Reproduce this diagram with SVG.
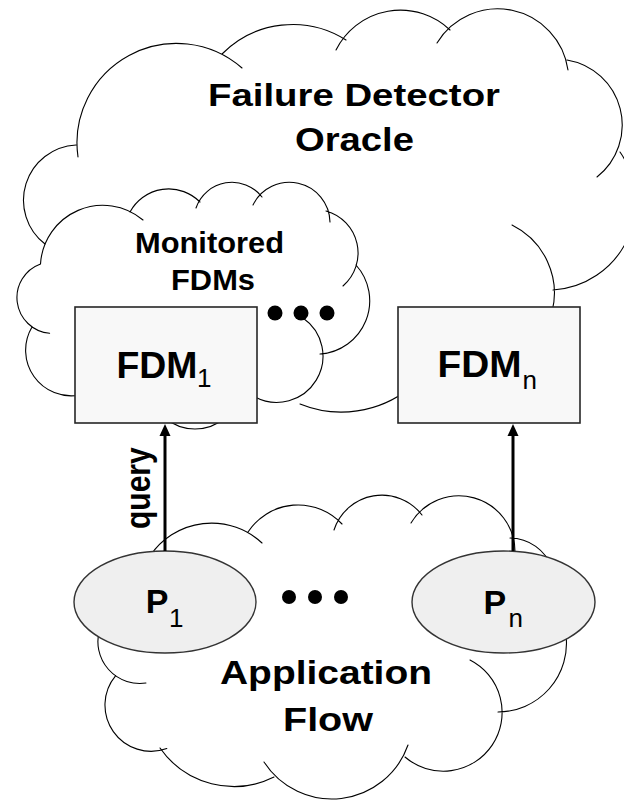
<svg xmlns="http://www.w3.org/2000/svg" width="624" height="804" viewBox="0 0 624 804">
  <defs>
    <style>
      .cloud { fill: none; stroke: #000; stroke-width: 1.1; stroke-linecap: round; }
      .box { fill: #f8f8f8; stroke: #262626; stroke-width: 1.6; }
      .proc { fill: #efefef; stroke: #333; stroke-width: 1.4; }
      .lbl { font-family: "Liberation Sans", Arial, sans-serif; font-weight: bold; fill: #000; }
      .sub { font-weight: normal; font-size: 26px; }
      .dot { fill: #000; }
      .link { stroke: #000; stroke-width: 3; fill: none; marker-end: url(#head); }
    </style>
    <marker id="head" markerUnits="userSpaceOnUse" viewBox="0 0 12 12" markerWidth="12" markerHeight="12" refX="6" refY="6" orient="auto">
      <path d="M0,0.5 L12,6 L0,11.5 Z" fill="#000"/>
    </marker>
  </defs>

  <rect width="624" height="804" fill="#fff"/>

  <!-- Outer cloud: failure detector oracle -->
  <g id="cloud-oracle">
    <path class="cloud" d="
      M45,244 A55.3,55.3 0 0 1 76,145
      M78,157 A99.5,99.5 0 0 1 242,68
      M222,54 A99.5,99.5 0 0 1 346,40
      M336,50 A72,72 0 0 1 450,30
      M437,43 A71,71 0 0 1 568,70
      M567,60 A66,66 0 0 1 597,177
      M620,152 A88,88 0 0 1 553,290
      M512,225 A76,76 0 0 1 552,312
      M410,388 A110,110 0 0 1 300,404"/>
    <text class="lbl" x="208" y="106" font-size="32" textLength="292" lengthAdjust="spacingAndGlyphs">Failure Detector</text>
    <text class="lbl" x="295" y="151" font-size="33" textLength="119" lengthAdjust="spacingAndGlyphs">Oracle</text>
  </g>

  <!-- Inner cloud: monitored FDMs -->
  <g id="cloud-monitored">
    <path class="cloud" d="
      M49.6,333.3 A35.8,35.8 0 0 1 40.5,264
      M40.5,264 A62.4,62.4 0 0 1 143,220
      M130,212 A44,44 0 0 1 200,202
      M196,208 A38,38 0 0 1 262,197
      M253,205 A40.6,40.6 0 0 1 330,222
      M326,211 A43.6,43.6 0 0 1 343,286
      M356,265 A53.4,53.4 0 0 1 320,354
      M303,318 A46.3,46.3 0 0 1 255,397
      M225,418 A46.4,46.4 0 0 1 165,418
      M80,395 A45.6,45.6 0 0 1 32,327"/>
    <text class="lbl" x="135" y="253" font-size="29" textLength="149" lengthAdjust="spacingAndGlyphs">Monitored</text>
    <text class="lbl" x="171" y="290" font-size="29" textLength="84" lengthAdjust="spacingAndGlyphs">FDMs</text>
  </g>

  <!-- Failure detector modules -->
  <g id="fdm-1">
    <rect class="box" x="75" y="307" width="182" height="116"/>
    <text class="lbl" x="116.5" y="378" font-size="37"><tspan textLength="81" lengthAdjust="spacingAndGlyphs">FDM</tspan><tspan class="sub" x="197" y="387">1</tspan></text>
  </g>
  <g id="fdm-n">
    <rect class="box" x="398" y="307" width="182" height="116"/>
    <text class="lbl" x="437.5" y="377" font-size="37"><tspan textLength="84" lengthAdjust="spacingAndGlyphs">FDM</tspan><tspan class="sub" x="522.5" y="388.5">n</tspan></text>
  </g>

  <!-- Lower cloud: application flow -->
  <g id="cloud-app">
    <path class="cloud" d="
      M150,556 A74,74 0 0 1 262,543
      M248,532 A60,60 0 0 1 342,524
      M334,530 A50.4,50.4 0 0 1 422,515
      M411,523 A56,56 0 0 1 515,552
      M510,538 A45,45 0 0 1 552,568
      M566,635 A68.8,68.8 0 0 1 498,712
      M470,660 A58.8,58.8 0 1 1 405,757
      M408,745 A80.7,80.7 0 0 1 264,762
      M274,777 A90,90 0 0 1 160,748
      M166.8,748.5 A46.1,46.1 0 0 1 115.7,675.6
      M146,683 A41.9,41.9 0 0 1 99.3,630.8"/>
    <text class="lbl" x="220" y="684" font-size="33" textLength="212" lengthAdjust="spacingAndGlyphs">Application</text>
    <text class="lbl" x="283" y="731" font-size="33" textLength="90" lengthAdjust="spacingAndGlyphs">Flow</text>
  </g>

  <!-- Processes -->
  <g id="p-1">
    <ellipse class="proc" cx="165" cy="602" rx="91" ry="51"/>
    <text class="lbl" x="145.7" y="613" font-size="34">P<tspan class="sub" x="169" y="627">1</tspan></text>
  </g>
  <g id="p-n">
    <ellipse class="proc" cx="503.5" cy="602" rx="91.5" ry="51"/>
    <text class="lbl" x="483.4" y="614" font-size="34">P<tspan class="sub" x="508.5" y="627">n</tspan></text>
  </g>

  <!-- Query connectors -->
  <g id="connectors">
    <line class="link" x1="165" y1="551" x2="165" y2="430"/>
    <line class="link" x1="513" y1="551" x2="513" y2="430"/>
    <text class="lbl" font-size="30" transform="translate(150.4,529) scale(1.18,1) rotate(-90)">query</text>
  </g>

  <!-- Ellipsis marks -->
  <g id="dots-fdm">
    <circle class="dot" cx="275" cy="313" r="7.5"/>
    <circle class="dot" cx="301" cy="313" r="7.5"/>
    <circle class="dot" cx="327" cy="313" r="7.5"/>
  </g>
  <g id="dots-proc">
    <circle class="dot" cx="289" cy="597" r="7"/>
    <circle class="dot" cx="315" cy="597" r="7"/>
    <circle class="dot" cx="341" cy="597" r="7"/>
  </g>
</svg>
